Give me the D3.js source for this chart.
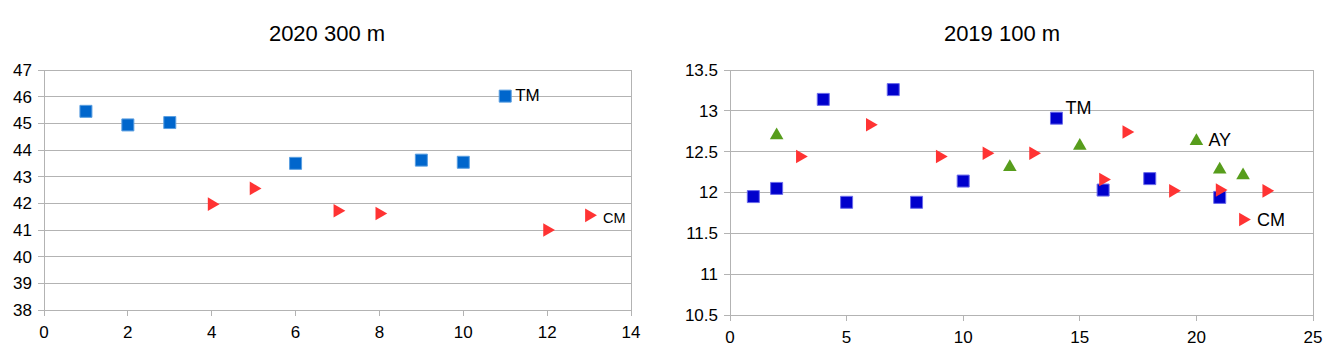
<!DOCTYPE html>
<html><head><meta charset="utf-8">
<script src="https://cdn.jsdelivr.net/npm/d3@7"></script>
<style>body{margin:0;background:#fff}svg{display:block;font-family:"Liberation Sans",Arial,sans-serif}</style>
</head><body><svg id="c" width="1336" height="355"></svg>
<script>
// ---- Chart 1: 2020 300 m ----
const c1Title = "2020 300 m";
const c1XTicks = [0,2,4,6,8,10,12,14];
const c1YTicks = [38,39,40,41,42,43,44,45,46,47];
const c1TMx = [1,2,3,6,9,10,11];
const c1TMy = [45.45,44.94,45.03,43.5,43.62,43.54,46.02];
const c1CMx = [4,5,7,8,12,13];
const c1CMy = [41.97,42.56,41.72,41.62,41.0,41.55];
const c1Labels = [{t:"TM",x:11,y:46.02},{t:"CM",x:13,y:41.55}];

// ---- Chart 2: 2019 100 m ----
const c2Title = "2019 100 m";
const c2XTicks = [0,5,10,15,20,25];
const c2YTicks = [10.5,11,11.5,12,12.5,13,13.5];
const c2TMx = [1,2,4,5,7,8,10,14,16,18,21];
const c2TMy = [11.95,12.05,13.14,11.88,13.26,11.88,12.14,12.91,12.03,12.17,11.94];
const c2CMx = [3,6,9,11,13,16,17,19,21,23,22];
const c2CMy = [12.44,12.83,12.44,12.48,12.48,12.16,12.74,12.02,12.03,12.02,11.67];
const c2AYx = [2,12,15,20,21,22];
const c2AYy = [12.70,12.31,12.57,12.63,12.28,12.21];
const c2Labels = [{t:"TM",x:14,y:12.91},{t:"AY",x:20,y:12.63},{t:"CM",x:22,y:11.67}];

const svg = d3.select("#c");
const gridCol = "#b3b3b3";

function chart(o){
  const g = svg.append("g");
  const x = d3.scaleLinear().domain(o.xd).range([o.l,o.r]);
  const y = d3.scaleLinear().domain(o.yd).range([o.b,o.t]);
  g.append("text").attr("x",o.tx).attr("y",41).attr("text-anchor","middle")
    .attr("font-size",22).attr("fill","#000").text(o.title);
  g.selectAll(".gy").data(o.yt).join("line")
    .attr("x1",o.l-6).attr("x2",o.r).attr("y1",d=>y(d)).attr("y2",d=>y(d))
    .attr("stroke",gridCol).attr("stroke-width",1).attr("shape-rendering","crispEdges");
  [o.l,o.r].forEach(px=>g.append("line").attr("x1",px).attr("x2",px).attr("y1",o.t).attr("y2",o.b+6)
    .attr("stroke",gridCol).attr("shape-rendering","crispEdges"));
  g.selectAll(".tx").data(o.xt).join("line")
    .attr("x1",d=>x(d)).attr("x2",d=>x(d)).attr("y1",o.b).attr("y2",o.b+6)
    .attr("stroke",gridCol).attr("shape-rendering","crispEdges");
  g.selectAll(".ly").data(o.yt).join("text")
    .attr("x",o.l-12).attr("y",d=>y(d)).attr("dy","0.35em").attr("text-anchor","end")
    .attr("font-size",17).attr("fill","#000").text(d=>d);
  g.selectAll(".lx").data(o.xt).join("text")
    .attr("x",d=>x(d)).attr("y",o.b+22).attr("dy","0.35em").attr("text-anchor","middle")
    .attr("font-size",17).attr("fill","#000").text(d=>d);
  o.series.forEach(s=>{
    const sym = d3.symbol().type(s.type).size(s.size);
    g.selectAll(null).data(d3.zip(s.xs,s.ys)).join("path")
      .attr("d",sym)
      .attr("transform",d=>`translate(${x(d[0])},${y(d[1])}) rotate(${s.rot||0})`)
      .attr("fill",s.fill).attr("stroke",s.stroke||"none").attr("stroke-width",1);
  });
  o.labels.forEach(lb=>{
    g.append("text").attr("x",x(lb.x)+lb.dx).attr("y",y(lb.y)+lb.dy).attr("dy","0.35em")
      .attr("font-size",lb.fs).attr("fill","#000").text(lb.t);
  });
}

chart({title:c1Title,tx:327,l:44,r:631,t:70,b:310,xd:[0,14],yd:[38,47],xt:c1XTicks,yt:c1YTicks,
  series:[
    {xs:c1TMx,ys:c1TMy,type:d3.symbolSquare,size:144,fill:"#0066cc",stroke:"#5a9ee0"},
    {xs:c1CMx,ys:c1CMy,type:d3.symbolTriangle,size:80,rot:90,fill:"#ff3333"}
  ],
  labels:[
    {t:c1Labels[0].t,x:c1Labels[0].x,y:c1Labels[0].y,dx:10,dy:-1,fs:17},
    {t:c1Labels[1].t,x:c1Labels[1].x,y:c1Labels[1].y,dx:14,dy:3,fs:14.5}
  ]});

chart({title:c2Title,tx:1002,l:730,r:1313,t:70,b:315,xd:[0,25],yd:[10.5,13.5],xt:c2XTicks,yt:c2YTicks,
  series:[
    {xs:c2TMx,ys:c2TMy,type:d3.symbolSquare,size:144,fill:"#0000cc",stroke:"#6b6bea"},
    {xs:c2CMx,ys:c2CMy,type:d3.symbolTriangle,size:80,rot:90,fill:"#ff3333"},
    {xs:c2AYx,ys:c2AYy,type:d3.symbolTriangle,size:80,fill:"#579d1c"}
  ],
  labels:[
    {t:c2Labels[0].t,x:c2Labels[0].x,y:c2Labels[0].y,dx:9,dy:-10,fs:18},
    {t:c2Labels[1].t,x:c2Labels[1].x,y:c2Labels[1].y,dx:12,dy:-1,fs:18},
    {t:c2Labels[2].t,x:c2Labels[2].x,y:c2Labels[2].y,dx:14,dy:0,fs:18}
  ]});
</script></body></html>
